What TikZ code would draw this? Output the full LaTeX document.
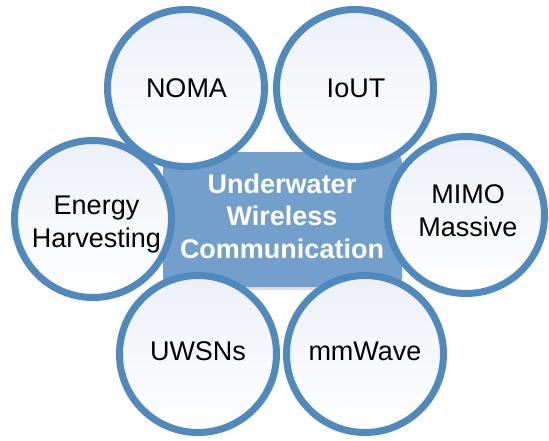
\documentclass[tikz,border=0pt]{standalone}
\usepackage{fontspec}
\setmainfont{Liberation Sans}
\usetikzlibrary{shadows}
\definecolor{ringblue}{RGB}{79,137,189}
\definecolor{rectblue}{RGB}{115,159,205}
\definecolor{circtop}{RGB}{236,240,247}
\tikzset{
  bubble/.style={circle, draw=ringblue, line width=7pt, minimum size=157pt, inner sep=0pt,
    top color=circtop, bottom color=white},
  hub/.style={rounded corners=10pt, fill=rectblue, minimum width=239pt, minimum height=135pt,
    drop shadow={shadow xshift=0pt, shadow yshift=-3pt, opacity=0.25}},
  lbl/.style={align=center, text=black, font=\fontsize{27}{32.5}\selectfont, inner sep=0pt},
  hublbl/.style={align=center, text=white, font=\fontsize{27}{32.5}\selectfont\bfseries, inner sep=0pt}
}
\begin{document}
\begin{tikzpicture}[x=1pt, y=-1pt]
\useasboundingbox (0,0) rectangle (549,440);
\node[hub] (hubbox) at (282.5,219.5) {};
\node[hublbl] (hubtxt) at (282,216) {Underwater\\Wireless\\Communication};
\node[bubble] (noma) at (186,88) {};
\node[bubble] (iout) at (355,88) {};
\node[bubble] (mimo) at (466,215) {};
\node[bubble] (mmw) at (365,354) {};
\node[bubble] (uwsn) at (198,354) {};
\node[bubble] (energy) at (93,219) {};
\node[lbl] (nomat) at (186.5,88) {NOMA};
\node[lbl] (ioutt) at (356,88) {IoUT};
\node[lbl] (mimot) at (468,210.5) {MIMO\\Massive};
\node[lbl] (mmwt) at (365,351) {mmWave};
\node[lbl] (uwsnt) at (198,351) {UWSNs};
\node[lbl] (energyt) at (96.5,224.5) {Energy\\Harvesting};
\end{tikzpicture}
\end{document}
